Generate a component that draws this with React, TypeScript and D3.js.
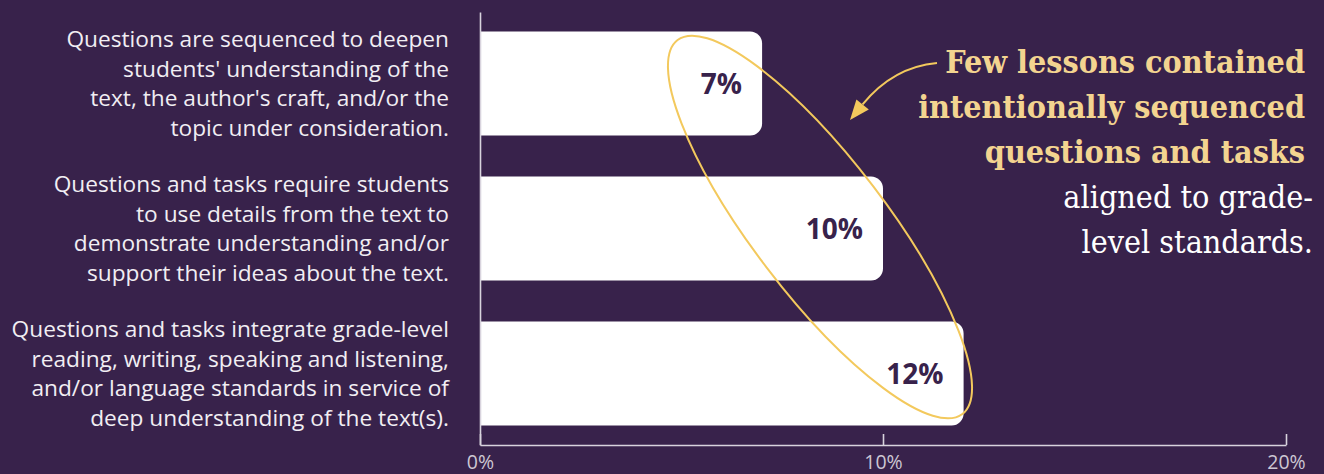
import React, { useEffect, useRef } from "react";
import * as d3 from "d3";

const categoryLines: string[][] = [
  [
    "Questions are sequenced to deepen",
    "students' understanding of the",
    "text, the author's craft, and/or the",
    "topic under consideration.",
  ],
  [
    "Questions and tasks require students",
    "to use details from the text to",
    "demonstrate understanding and/or",
    "support their ideas about the text.",
  ],
  [
    "Questions and tasks integrate grade-level",
    "reading, writing, speaking and listening,",
    "and/or language standards in service of",
    "deep understanding of the text(s).",
  ],
];
const categories = ["Sequenced", "Text details", "Integrated standards"];
const values = [7, 10, 12];
const xTicks = [0, 10, 20];
const highlightLines = [
  "Few lessons contained",
  "intentionally sequenced",
  "questions and tasks",
];
const plainLines = ["aligned to grade-", "level standards."];

const W = 1324;
const H = 474;
const BG = "#38224b";
const GOLD = "#f3c95d";
const GOLD_TEXT = "#f3d490";
const AXIS = "#d8d3dd";

export default function App() {
  const axisRef = useRef<SVGGElement>(null);
  const yAxisRef = useRef<SVGGElement>(null);

  const x = d3.scaleLinear().domain([0, 20]).range([480, 1286]);
  const y = d3
    .scaleBand<string>()
    .domain(categories)
    .range([12, 445])
    .paddingInner(0.283)
    .paddingOuter(0.135);

  useEffect(() => {
    if (axisRef.current) {
      const g = d3.select(axisRef.current);
      g.call(
        d3
          .axisBottom(x)
          .tickValues(xTicks)
          .tickFormat((d) => `${d}%`)
          .tickSizeInner(-11)
          .tickSizeOuter(0)
          .tickPadding(10)
      );
      g.select(".domain").attr("stroke", AXIS).attr("stroke-width", 1.6);
      g.selectAll(".tick line").attr("stroke", AXIS).attr("stroke-width", 1.6);
      g.selectAll(".tick text")
        .attr("fill", "#cdc7d3")
        .attr("font-size", 19.5)
        .attr("font-family", "'Open Sans', sans-serif");
    }
    if (yAxisRef.current) {
      const g = d3.select(yAxisRef.current);
      g.call(d3.axisLeft(y).tickSize(0).tickFormat(() => ""));
      g.select(".domain").attr("stroke", AXIS).attr("stroke-width", 1.6);
    }
  }, []);

  const r = 12;
  const barPath = (v: number, cat: string) => {
    const x0 = x(0);
    const x1 = x(v);
    const y0 = y(cat) as number;
    const h = y.bandwidth();
    const p = d3.path();
    p.moveTo(x0, y0);
    p.lineTo(x1 - r, y0);
    p.arcTo(x1, y0, x1, y0 + r, r);
    p.lineTo(x1, y0 + h - r);
    p.arcTo(x1, y0 + h, x1 - r, y0 + h, r);
    p.lineTo(x0, y0 + h);
    p.closePath();
    return p.toString();
  };

  const lineH = 29.4;

  // arrow geometry (annotation)
  const arrowStart: [number, number] = [937, 63];
  const arrowCtrl: [number, number] = [893, 67];
  const arrowEnd: [number, number] = [850, 120];
  const ang = Math.atan2(arrowEnd[1] - arrowCtrl[1], arrowEnd[0] - arrowCtrl[0]);
  const ah = 20;
  const aw = 8;
  const tip = arrowEnd;
  const bx = tip[0] - ah * Math.cos(ang);
  const by = tip[1] - ah * Math.sin(ang);
  const head = [
    tip,
    [bx + aw * Math.sin(ang), by - aw * Math.cos(ang)],
    [bx - aw * Math.sin(ang), by + aw * Math.cos(ang)],
  ];

  return (
    <svg
      width={W}
      height={H}
      style={{ position: "absolute", left: 0, top: 0, display: "block" }}
    >
      <rect x={0} y={0} width={W} height={H} fill={BG} />

      {/* category labels */}
      {categories.map((c, i) => {
        const cy = (y(c) as number) + y.bandwidth() / 2;
        const lines = categoryLines[i];
        const top = cy - ((lines.length - 1) * lineH) / 2;
        return (
          <text
            key={c}
            textAnchor="end"
            fill="#f1eef3"
            fontSize={22.7}
            fontFamily="'Open Sans', sans-serif"
          >
            {lines.map((l, j) => (
              <tspan key={j} x={449} y={top + j * lineH} dy="0.35em">
                {l}
              </tspan>
            ))}
          </text>
        );
      })}

      {/* bars */}
      {categories.map((c, i) => (
        <path key={c} d={barPath(values[i], c)} fill="#ffffff" />
      ))}

      {/* value labels */}
      {categories.map((c, i) => (
        <text
          key={c}
          x={x(values[i]) - 20}
          y={(y(c) as number) + y.bandwidth() / 2}
          dy="0.36em"
          textAnchor="end"
          fill={BG}
          fontSize={28}
          fontWeight={700}
          fontFamily="'Open Sans', sans-serif"
        >
          {`${values[i]}%`}
        </text>
      ))}

      <g ref={axisRef} transform={`translate(0,445)`} />
      <g ref={yAxisRef} transform={`translate(480,0)`} />

      {/* ellipse annotation */}
      <ellipse
        cx={820}
        cy={227}
        rx={235}
        ry={67}
        transform="rotate(52.7 820 227)"
        fill="none"
        stroke={GOLD}
        strokeWidth={2}
      />

      {/* arrow */}
      <path
        d={`M${arrowStart[0]},${arrowStart[1]} Q${arrowCtrl[0]},${arrowCtrl[1]} ${bx},${by}`}
        fill="none"
        stroke={GOLD}
        strokeWidth={2}
      />
      <polygon points={head.map((p) => p.join(",")).join(" ")} fill={GOLD} />

      {/* annotation text */}
      <text
        textAnchor="end"
        fontFamily="'DejaVu Serif', serif"
        fontSize={32}
        style={{ fontStretch: "condensed" }}
      >
        {highlightLines.map((l, j) => (
          <tspan
            key={l}
            x={1305}
            y={62 + j * 45}
            dy="0.35em"
            fill={GOLD_TEXT}
            fontWeight={700}
          >
            {l}
          </tspan>
        ))}
        {plainLines.map((l, j) => (
          <tspan
            key={l}
            x={1313}
            y={62 + (j + 3) * 45}
            dy="0.35em"
            fill="#ffffff"
          >
            {l}
          </tspan>
        ))}
      </text>
    </svg>
  );
}
